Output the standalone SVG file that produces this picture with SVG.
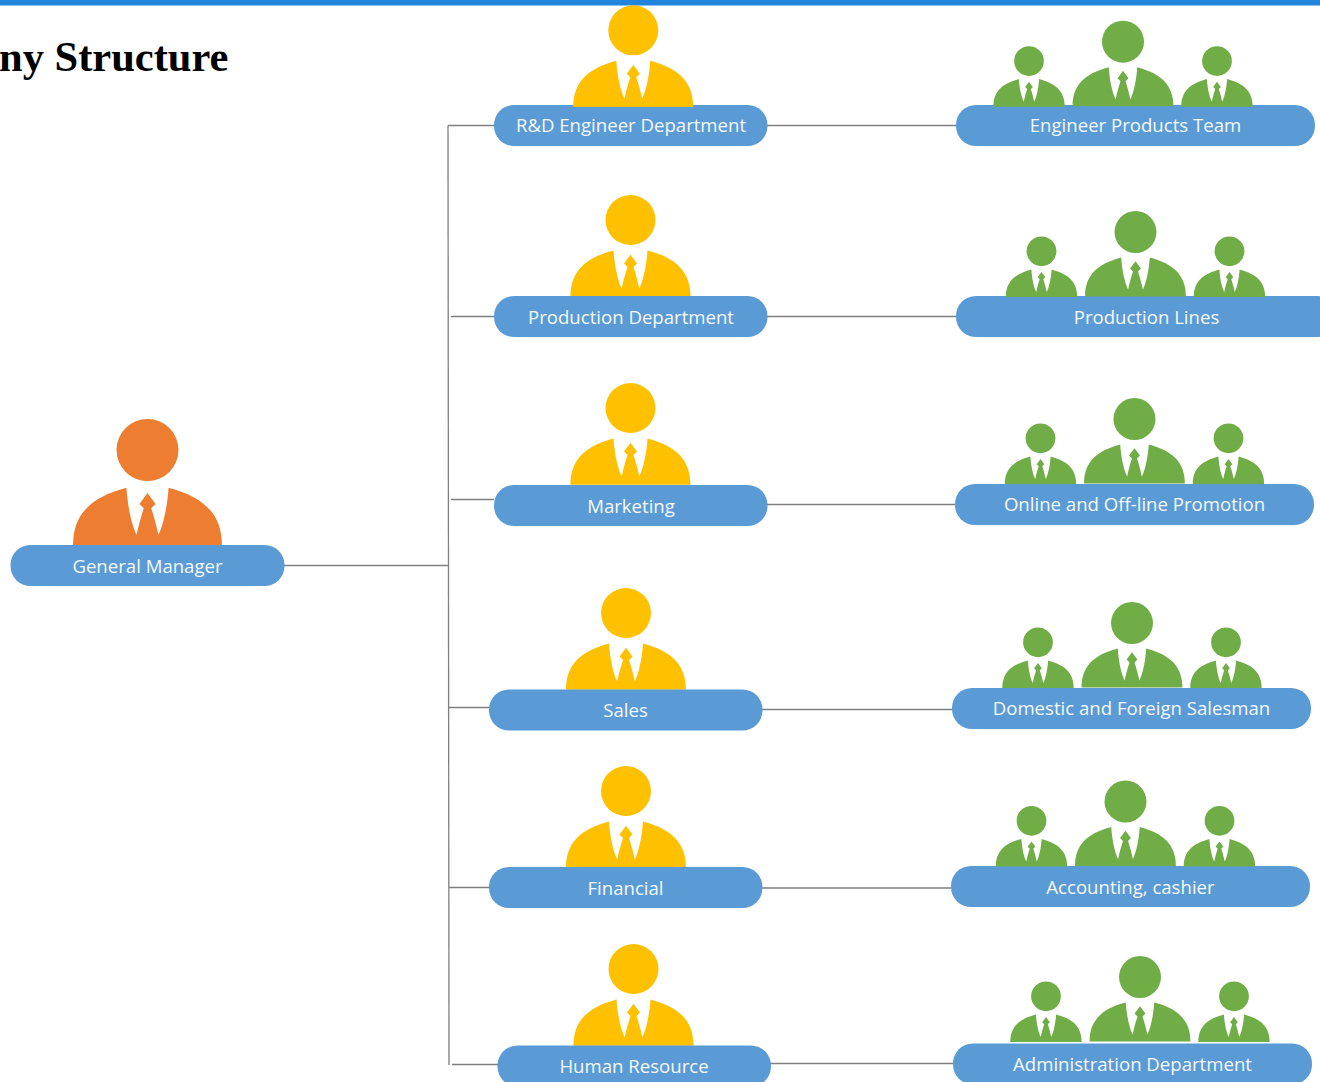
<svg xmlns="http://www.w3.org/2000/svg" xmlns:xlink="http://www.w3.org/1999/xlink" width="1320" height="1082" viewBox="0 0 1320 1082">
<style>
.pill{fill:#5b9bd5}
.lbl{font-family:"Open Sans","Noto Sans",sans-serif;font-size:18.6px;fill:#f4f8fc;text-anchor:middle}
.o{fill:#ed7d31}.y{fill:#ffc000}.g{fill:#70ad47}
#conn path{fill:none;stroke:#7f7f7f;stroke-width:1.3}
</style>
<defs>
<g id="p"><circle r="25"/><path d="M-60,76.7C-60,52-46,38-17,30.4C-16,45-13,60-8.8,68.4C-7,60-5,53-3,47L-6.5,43.5L0,34.7L6.5,43.5L3,47C5,53 7,60 8.8,68.4C13,60 16,45 17,30.4C46,38 60,52 60,76.7Z"/></g>
<g id="team">
<use xlink:href="#p" href="#p" transform="translate(-94,19.3) scale(.595)"/>
<use xlink:href="#p" href="#p" transform="scale(.84)"/>
<use xlink:href="#p" href="#p" transform="translate(94,19.3) scale(.595)"/>
</g>
</defs>
<rect width="1320" height="1082" fill="#fff"/>
<rect id="topbar" width="1320" height="5.5" fill="#2185de"/>
<text id="title" x="-1" y="71" font-family="Liberation Serif,serif" font-weight="bold" font-size="42.5" fill="#000">ny Structure</text>
<g id="conn">
<path d="M284,565.500H448"/>
<path d="M448,125.500L449,1065"/>
<path d="M448,125.500H494M767,125.500H956"/>
<path d="M451,316.500H494M767,316.500H956"/>
<path d="M451,499.500H494M767,504.500H955"/>
<path d="M449,707.500H489M762,709.500H952"/>
<path d="M449,887.500H489M762,888H951"/>
<path d="M452,1064.500H498M770,1063.500H953"/>
</g>
<g id="n-gm" class="o"><use xlink:href="#p" href="#p" transform="translate(147.500,450) scale(1.24)"/><rect class="pill" x="10.500" y="545" width="274" height="41" rx="20"/><text class="lbl" x="147.500" y="573">General Manager</text></g>
<g id="n-rd" class="y"><rect class="pill" x="494" y="105" width="273.500" height="41" rx="20"/><use xlink:href="#p" href="#p" transform="translate(633.300,30.300)"/><text class="lbl" x="631" y="132">R&amp;D Engineer Department</text></g>
<g id="n-prod" class="y"><use xlink:href="#p" href="#p" transform="translate(630.500,220)"/><rect class="pill" x="494" y="296" width="273.500" height="41" rx="20"/><text class="lbl" x="631" y="324">Production Department</text></g>
<g id="n-mkt" class="y"><use xlink:href="#p" href="#p" transform="translate(630.500,408)"/><rect class="pill" x="494" y="485" width="273.500" height="41" rx="20"/><text class="lbl" x="631" y="513">Marketing</text></g>
<g id="n-sales" class="y"><use xlink:href="#p" href="#p" transform="translate(626,613)"/><rect class="pill" x="489" y="689.500" width="273.500" height="41" rx="20"/><text class="lbl" x="625.500" y="717">Sales</text></g>
<g id="n-fin" class="y"><use xlink:href="#p" href="#p" transform="translate(626,791)"/><rect class="pill" x="489" y="867" width="273.500" height="41" rx="20"/><text class="lbl" x="625.500" y="895">Financial</text></g>
<g id="n-hr" class="y"><use xlink:href="#p" href="#p" transform="translate(633.500,969)"/><rect class="pill" x="497.500" y="1045.500" width="273.500" height="41" rx="20"/><text class="lbl" x="634" y="1073">Human Resource</text></g>
<g id="t-eng" class="g"><rect class="pill" x="956" y="105" width="359" height="41" rx="20"/><use xlink:href="#team" href="#team" transform="translate(1123,41.700)"/><text class="lbl" x="1135.500" y="132">Engineer Products Team</text></g>
<g id="t-prod" class="g"><rect class="pill" x="956" y="296" width="381" height="41" rx="20"/><use xlink:href="#team" href="#team" transform="translate(1135.500,232)"/><text class="lbl" x="1146.500" y="324">Production Lines</text></g>
<g id="t-mkt" class="g"><rect class="pill" x="955" y="484" width="359" height="41" rx="20"/><use xlink:href="#team" href="#team" transform="translate(1134.500,419)"/><text class="lbl" x="1134.500" y="511">Online and Off-line Promotion</text></g>
<g id="t-sales" class="g"><rect class="pill" x="952" y="688" width="359" height="41" rx="20"/><use xlink:href="#team" href="#team" transform="translate(1132,623)"/><text class="lbl" x="1131.500" y="715">Domestic and Foreign Salesman</text></g>
<g id="t-fin" class="g"><rect class="pill" x="951" y="866" width="359" height="41" rx="20"/><use xlink:href="#team" href="#team" transform="translate(1125.500,801.500)"/><text class="lbl" x="1130.500" y="894">Accounting, cashier</text></g>
<g id="t-hr" class="g"><rect class="pill" x="953" y="1043.500" width="359" height="41" rx="20"/><use xlink:href="#team" href="#team" transform="translate(1140,977)"/><text class="lbl" x="1132.500" y="1071">Administration Department</text></g>
</svg>
